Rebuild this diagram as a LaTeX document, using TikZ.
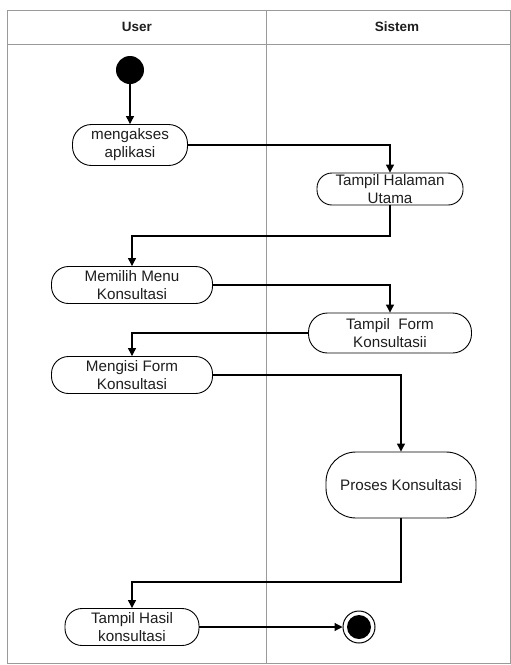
\documentclass[tikz,border=0pt]{standalone}
\usepackage{fontspec}
\setmainfont{Liberation Sans}
\usetikzlibrary{arrows.meta}
\definecolor{txt}{HTML}{1E1E1E}
\definecolor{frame}{HTML}{9A9A9A}
\tikzset{
  act/.style={draw=black, line width=0.9pt, fill=white, align=center, inner sep=0pt,
    text=txt, font=\fontsize{15.2}{18}\selectfont},
  flow/.style={draw=black, line width=1.2pt, -{Triangle[length=8pt,width=8pt]}},
  lane/.style={draw=frame, line width=1pt},
  head/.style={font=\fontsize{13.5}{15}\selectfont\bfseries, text=txt}
}
\begin{document}
\begin{tikzpicture}[x=1pt,y=-1pt]
\useasboundingbox (0,0) rectangle (511,665);
\fill[white] (0,0) rectangle (511,665);
% swimlane frame
\draw[lane] (7,10) rectangle (510,663);
\draw[lane] (7,44) -- (510,44);
\draw[lane] (266,10) -- (266,663);
\node[head] (hu) at (137,27) {User};
\node[head] (hs) at (397,27) {Sistem};
% nodes
\node[circle, fill=black, minimum size=28pt, inner sep=0pt] (start) at (130,70) {};
\node[act, minimum width=115pt, minimum height=41pt, rounded corners=19pt] (ma) at (130,145) {mengakses\\aplikasi};
\node[act, minimum width=146pt, minimum height=32pt, rounded corners=15pt] (th) at (390,189) {Tampil Halaman\\Utama};
\node[act, minimum width=161pt, minimum height=37pt, rounded corners=17pt] (mm) at (132,285) {Memilih Menu\\Konsultasi};
\node[act, minimum width=163pt, minimum height=40pt, rounded corners=19pt] (tf) at (390,333) {Tampil\ \ Form\\Konsultasii};
\node[act, minimum width=161pt, minimum height=37pt, rounded corners=17pt] (mf) at (132,375) {Mengisi Form\\Konsultasi};
\node[act, minimum width=150pt, minimum height=66pt, rounded corners=30pt] (pk) at (401,485) {Proses Konsultasi};
\node[act, minimum width=134pt, minimum height=37pt, rounded corners=17pt] (hk) at (132,627) {Tampil Hasil\\konsultasi};
\node[circle, draw=black, line width=1pt, fill=white, minimum size=32pt, inner sep=0pt] (end) at (359,627) {};
\fill[black] (end.center) circle (12pt);
% bend points
\coordinate (c1) at (132,236);
\coordinate (c2) at (132,333);
\coordinate (c3) at (132,582);
% connectors
\draw[flow] (start) -- (ma);
\draw[flow] (ma.east) -| (th.north);
\draw[flow] (th.south) |- (c1) -- (mm.north);
\draw[flow] (mm.east) -| (tf.north);
\draw[flow] (tf.west) -- (c2) -- (mf.north);
\draw[flow] (mf.east) -| (pk.north);
\draw[flow] (pk.south) |- (c3) -- (hk.north);
\draw[flow] (hk.east) -- (end.west);
\end{tikzpicture}
\end{document}
